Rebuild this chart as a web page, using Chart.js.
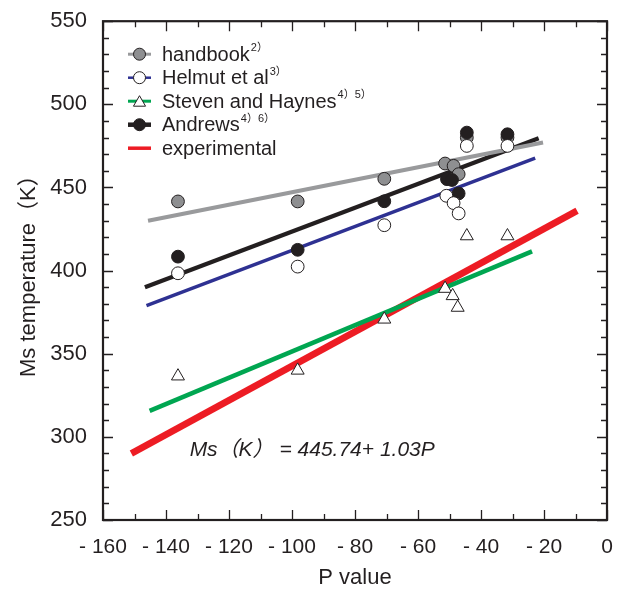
<!DOCTYPE html>
<html>

<head>
    <title>Ms temperature vs P value</title>
    <script src="https://cdn.jsdelivr.net/npm/chart.js@4.4.0/dist/chart.umd.min.js"></script>
    <style>
        html,
        body {
            margin: 0;
            padding: 0;
            background: #ffffff;
        }
    </style>
</head>

<body>
    <canvas id="msChart" width="623" height="592"></canvas>

    <script>
        // measured points (P value, Ms in K)
        const handbookP = [-136.2, -98.2, -70.7, -51.4, -48.7, -47.1, -44.5, -31.6];
        const handbookMs = [441.6, 441.6, 455.2, 464.4, 463.0, 458.0, 480.0, 480.0];
        const helmutP = [-136.2, -98.2, -70.7, -51.0, -48.7, -47.1, -44.5, -31.6];
        const helmutMs = [398.4, 402.4, 427.3, 445.0, 440.6, 434.4, 475.0, 475.0];
        const stevenP = [-136.2, -98.2, -70.7, -51.4, -49.0, -47.4, -44.5, -31.6];
        const stevenMs = [336.5, 340.0, 370.7, 389.2, 384.8, 377.8, 420.8, 420.8];
        const andrewsP = [-136.2, -98.2, -70.7, -50.8, -49.2, -47.1, -44.5, -31.6];
        const andrewsMs = [408.4, 412.5, 441.7, 455.0, 454.5, 446.4, 483.0, 482.0];

        const handbookFitP = [-145.7, -20.3];
        const handbookFitMs = [430.0, 477.0];
        const helmutFitP = [-146.2, -22.8];
        const helmutFitMs = [379.0, 467.6];
        const stevenFitP = [-145.2, -23.8];
        const stevenFitMs = [315.6, 411.6];
        const andrewsFitP = [-146.7, -21.7];
        const andrewsFitMs = [390.0, 479.6];
        const expFitP = [-151.0, -9.5];
        const expFitMs = [290.0, 436.0];

        const xTicks = [-160, -140, -120, -100, -80, -60, -40, -20, 0];
        const yTicks = [250, 300, 350, 400, 450, 500, 550];
        const equation = 'Ms（K） = 445.74+ 1.03P';
        const equationAt = [-132.5, 292];

        const ink = '#231f20';
        const grey = '#999a9c';
        const greyFill = '#8e8f91';
        const blue = '#2e3192';
        const green = '#00a651';
        const red = '#ed1c24';
        const font = '"Liberation Sans", Arial, "Noto Sans CJK JP", sans-serif';

        function pts(xs, ys) {
            return xs.map((x, i) => ({ x: x, y: ys[i] }));
        }

        function fitLine(xs, ys, color, width) {
            return {
                type: 'line',
                data: pts(xs, ys),
                borderColor: color,
                borderWidth: width,
                pointRadius: 0,
                borderCapStyle: 'butt',
                fill: false,
                order: 10
            };
        }

        function marks(xs, ys, style, fill, order) {
            return {
                type: 'scatter',
                data: pts(xs, ys),
                pointStyle: style,
                pointRadius: style === 'triangle' ? 7.5 : 6.4,
                pointBackgroundColor: fill,
                pointBorderColor: ink,
                pointBorderWidth: 1,
                showLine: false,
                order: order
            };
        }

        const legendItems = [
            { text: 'handbook', sup: '2）', color: grey, lw: 3, style: 'circle', fill: greyFill },
            { text: 'Helmut et al', sup: '3）', color: blue, lw: 2.5, style: 'circle', fill: '#ffffff' },
            { text: 'Steven and Haynes', sup: '4）5）', color: green, lw: 3, style: 'triangle', fill: '#ffffff' },
            { text: 'Andrews', sup: '4）6）', color: ink, lw: 4.5, style: 'circle', fill: ink },
            { text: 'experimental', sup: '', color: red, lw: 3.5, style: null, fill: null }
        ];

        // frame, inward ticks, legend and the equation
        const decor = {
            id: 'decor',
            afterDatasetsDraw(chart) {
                const ctx = chart.ctx;
                const a = chart.chartArea;
                const xs = chart.scales.x;
                const ys = chart.scales.y;
                ctx.save();
                ctx.strokeStyle = ink;
                ctx.lineWidth = 1.3;
                for (let v = -160; v <= 0; v += 10) {
                    const px = Math.round(xs.getPixelForValue(v)) + 0.5;
                    const len = v % 20 === 0 ? 10 : 6;
                    ctx.beginPath();
                    ctx.moveTo(px, a.bottom); ctx.lineTo(px, a.bottom - len);
                    ctx.moveTo(px, a.top); ctx.lineTo(px, a.top + len);
                    ctx.stroke();
                }
                for (let v = 250; v <= 550; v += 10) {
                    const py = Math.round(ys.getPixelForValue(v)) + 0.5;
                    const len = v % 50 === 0 ? 10 : 6;
                    ctx.beginPath();
                    ctx.moveTo(a.left, py); ctx.lineTo(a.left + len, py);
                    ctx.moveTo(a.right, py); ctx.lineTo(a.right - len, py);
                    ctx.stroke();
                }
                ctx.lineWidth = 2.2;
                ctx.strokeRect(a.left, a.top, a.right - a.left, a.bottom - a.top);

                // legend
                legendItems.forEach((it, i) => {
                    const y = a.top + 33 + i * 23.5;
                    const x0 = a.left + 25;
                    ctx.strokeStyle = it.color;
                    ctx.lineWidth = it.lw;
                    ctx.beginPath();
                    ctx.moveTo(x0, y); ctx.lineTo(x0 + 23, y);
                    ctx.stroke();
                    if (it.style) {
                        ctx.fillStyle = it.fill;
                        ctx.strokeStyle = ink;
                        ctx.lineWidth = 1;
                        Chart.helpers.drawPoint(ctx, {
                            pointStyle: it.style,
                            radius: it.style === 'triangle' ? 7 : 6,
                            rotation: 0,
                            borderWidth: 1
                        }, x0 + 11.5, y + (it.style === 'triangle' ? 1.5 : 0));
                    }
                    ctx.fillStyle = ink;
                    ctx.font = '20px ' + font;
                    ctx.textBaseline = 'middle';
                    ctx.textAlign = 'left';
                    ctx.fillText(it.text, x0 + 34, y + 1);
                    if (it.sup) {
                        const w = ctx.measureText(it.text).width;
                        ctx.font = '11px ' + font;
                        ctx.fillText(it.sup, x0 + 35 + w, y - 6);
                    }
                });

                // fitted equation
                ctx.fillStyle = ink;
                ctx.font = 'italic 21px ' + font;
                ctx.textBaseline = 'middle';
                ctx.textAlign = 'left';
                ctx.fillText(equation, xs.getPixelForValue(equationAt[0]), ys.getPixelForValue(equationAt[1]));
                ctx.restore();
            }
        };

        new Chart(document.getElementById('msChart'), {
            data: {
                datasets: [
                    marks(helmutP, helmutMs, 'circle', '#ffffff', 1),
                    marks(andrewsP, andrewsMs, 'circle', ink, 2),
                    marks(handbookP, handbookMs, 'circle', greyFill, 3),
                    marks(stevenP, stevenMs, 'triangle', '#ffffff', 4),
                    fitLine(handbookFitP, handbookFitMs, grey, 4),
                    fitLine(helmutFitP, helmutFitMs, blue, 3.5),
                    fitLine(stevenFitP, stevenFitMs, green, 4.5),
                    fitLine(andrewsFitP, andrewsFitMs, ink, 4.2),
                    fitLine(expFitP, expFitMs, red, 6.8)
                ]
            },
            options: {
                responsive: false,
                animation: false,
                devicePixelRatio: 1,
                layout: { padding: { top: 20, right: 16, left: 0, bottom: 0 } },
                plugins: { legend: { display: false }, tooltip: { enabled: false } },
                scales: {
                    x: {
                        type: 'linear',
                        min: -160,
                        max: 0,
                        afterBuildTicks: s => { s.ticks = xTicks.map(v => ({ value: v })); },
                        afterFit: s => { s.height = 72; },
                        grid: { display: false },
                        border: { display: false },
                        ticks: {
                            color: ink,
                            padding: 7,
                            maxRotation: 0,
                            font: { family: font, size: 21 },
                            callback: v => v === 0 ? '0' : '- ' + Math.abs(v)
                        },
                        title: {
                            display: true,
                            text: 'P value',
                            color: ink,
                            padding: { top: 0, bottom: 1 },
                            font: { family: font, size: 22 }
                        }
                    },
                    y: {
                        type: 'linear',
                        min: 250,
                        max: 550,
                        afterBuildTicks: s => { s.ticks = yTicks.map(v => ({ value: v })); },
                        afterFit: s => { s.width = 103; },
                        grid: { display: false },
                        border: { display: false },
                        ticks: {
                            color: ink,
                            padding: 8,
                            font: { family: font, size: 22 }
                        },
                        title: {
                            display: true,
                            text: 'Ms temperature（K）',
                            color: ink,
                            padding: { top: 16, bottom: 0 },
                            font: { family: font, size: 22 }
                        }
                    }
                }
            },
            plugins: [decor]
        });
    </script>
</body>

</html>
